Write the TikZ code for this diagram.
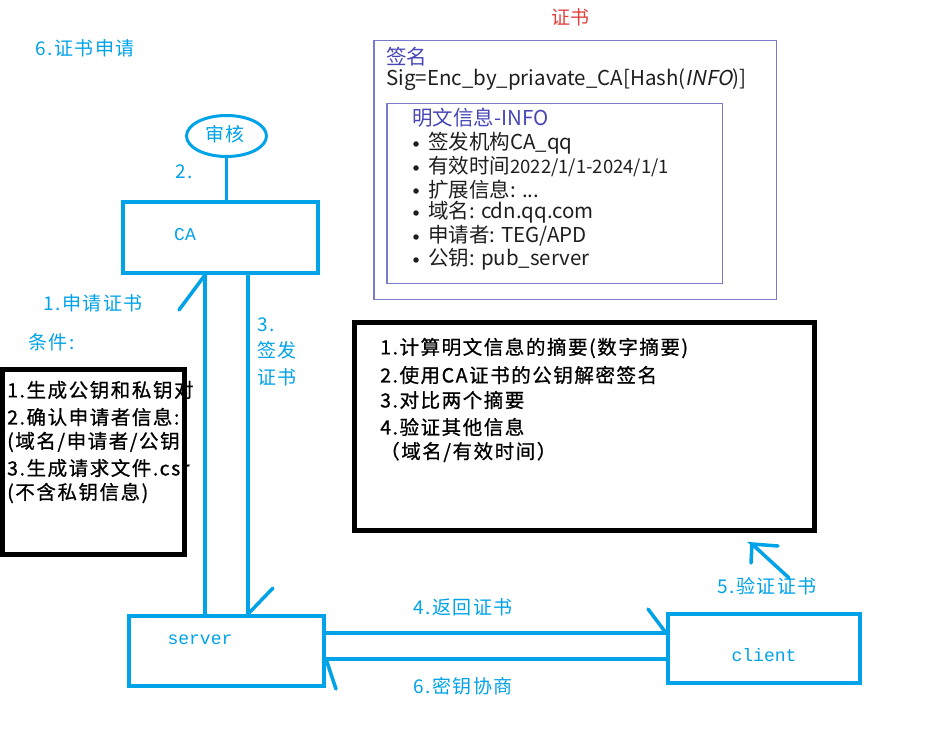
\documentclass[tikz,border=0pt]{standalone}
\usepackage{fontspec}
\setmainfont{Noto Sans CJK SC}
\newfontfamily\slfont[FakeSlant=0.2]{Noto Sans CJK SC}
\newfontfamily\sunfont[LetterSpace=8]{Noto Sans CJK SC}
\newfontfamily\sunboldfont[LetterSpace=8,FakeBold=0.8]{Noto Sans CJK SC}
\newfontfamily\monofont{Liberation Mono}
\usetikzlibrary{shapes.geometric}
\definecolor{pblue}{HTML}{00A2E8}
\definecolor{certred}{HTML}{E0403C}
\definecolor{certframe}{HTML}{7B7BCB}
\definecolor{certhead}{HTML}{4646B8}
\definecolor{certtext}{HTML}{1E1E1E}
\begin{document}
\begin{tikzpicture}[x=1pt,y=-1pt,
  bline/.style={draw=pblue,line width=3.5pt,line cap=round},
  bluebox/.style={draw=pblue,line width=4pt,inner sep=0pt},
  blackbox/.style={draw=black,line width=5pt,inner sep=0pt},
  bluetxt/.style={text=pblue,inner sep=0pt,anchor=west,font=\sunfont\fontsize{19}{19}\selectfont},
  blacktxt/.style={text=black,inner sep=0pt,anchor=west,font=\sunboldfont\fontsize{19.5}{19.5}\selectfont},
  certtxt/.style={text=certtext,inner sep=0pt,anchor=west,font=\fontsize{20.5}{20.5}\selectfont},
  bulletdot/.style={circle,fill=certtext,inner sep=0pt,minimum size=5.5pt},
  monotxt/.style={text=pblue,inner sep=0pt,font=\monofont\fontsize{18}{18}\selectfont},
]
\useasboundingbox (0,0) rectangle (925,730);

% ---------- certificate ----------
\node[text=certred,inner sep=0pt,font=\fontsize{19}{19}\selectfont] (title) at (570,17) {证书};
\node[draw=certframe,line width=1.5pt,inner sep=0pt,minimum width=402.5pt,minimum height=258.5pt] (cert) at (575,170) {};
\node[draw=certframe,line width=1.5pt,inner sep=0pt,minimum width=335.5pt,minimum height=179.5pt] (info) at (554.5,193.5) {};
\node[certtxt,text=certhead] (sigtitle) at (386,57) {签名};
\node[certtxt] (sig) at (386,80) {Sig=Enc\_by\_priavate\_CA[Hash({\slfont INFO})]};
\node[certtxt,text=certhead] (infotitle) at (412,118) {明文信息-INFO};
\node[bulletdot] (bd1) at (416,144) {};
\node[bulletdot] (bd2) at (416,168) {};
\node[bulletdot] (bd3) at (416,191) {};
\node[bulletdot] (bd4) at (416,213) {};
\node[bulletdot] (bd5) at (416,237) {};
\node[bulletdot] (bd6) at (416,260) {};
\node[certtxt] (bt1) at (428,143) {签发机构CA\_qq};
\node[certtxt] (bt2) at (428,167) {有效时间{\fontsize{18.5}{18.5}\selectfont 2022/1/1-2024/1/1}};
\node[certtxt] (bt3) at (428,190) {扩展信息: ...};
\node[certtxt] (bt4) at (428,212) {域名: cdn.qq.com};
\node[certtxt] (bt5) at (428,236) {申请者: TEG/APD};
\node[certtxt] (bt6) at (428,259) {公钥: pub\_server};

% ---------- left labels ----------
\node[bluetxt] (apply) at (35,48) {6.证书申请};
\node[draw=pblue,line width=3pt,ellipse,inner sep=0pt,minimum width=80pt,minimum height=41pt] (ell) at (226.5,136) {};
\node[bluetxt,anchor=center] (elltxt) at (225,134) {审核};
\node[bluetxt] (two) at (175,172) {2.};

% ---------- CA, server, client ----------
\node[bluebox,minimum width=195pt,minimum height=71pt] (ca) at (220.5,237.5) {};
\node[monotxt] (catxt) at (185,235) {CA};
\node[bluebox,minimum width=195pt,minimum height=70pt] (server) at (226.5,651) {};
\node[monotxt] (servertxt) at (200,640) {server};
\node[bluebox,minimum width=192pt,minimum height=69pt] (client) at (764,648.5) {};
\node[monotxt] (clienttxt) at (764,655) {client};

% ---------- connectors ----------
\draw[bline,line width=3pt] (ell.south) -- (ell.south |- ca.north);
\coordinate (xl) at (205,0);
\coordinate (xr) at (248,0);
\draw[bline] (xl |- ca.south) -- (xl |- server.north);
\draw[bline] (xl |- ca.south) -- ++(-26,35);
\draw[bline] (xr |- ca.south) -- (xr |- server.north);
\draw[bline] (xr |- server.north) -- ++(25,-26);
\coordinate (yu) at (0,633);
\coordinate (yd) at (0,659);
\draw[bline] (server.east |- yu) -- (client.west |- yu);
\draw[bline] (client.west |- yu) -- ++(-18,-24);
\draw[bline] (server.east |- yd) -- (client.west |- yd);
\draw[bline] (server.east |- yd) -- ++(10,30);
\coordinate (vtip) at (752,544);
\coordinate (vtail) at (789,578);
\draw[bline] (vtail) -- (vtip) -- ++(26,2);
\draw[bline] (vtip) -- ++(-1,19);

% ---------- labels on connectors ----------
\node[bluetxt] (l1) at (43,303) {1.申请证书};
\node[bluetxt] (cond) at (28,342) {条件:};
\node[bluetxt] (l3a) at (257,325) {3.};
\node[bluetxt] (l3b) at (257,350) {签发};
\node[bluetxt] (l3c) at (257,377) {证书};
\node[bluetxt] (l4) at (413,607) {4.返回证书};
\node[bluetxt] (l6) at (413,686) {6.密钥协商};
\node[bluetxt] (l5) at (717,586) {5.验证证书};

% ---------- left black box ----------
\node[blacktxt] (r1) at (7,390) {1.生成公钥和私钥对};
\node[blacktxt] (r2) at (7,417) {2.确认申请者信息:};
\node[blacktxt] (r3) at (7,442) {(域名/申请者/公钥)};
\node[blacktxt] (r4) at (7,468) {3.生成请求文件.csr};
\node[blacktxt] (r5) at (7,493) {(不含私钥信息)};
\node[blackbox,minimum width=182pt,minimum height=185pt] (reqbox) at (93.5,462) {};

% ---------- right black box ----------
\node[blackbox,minimum width=460pt,minimum height=208pt] (verbox) at (584.5,426.5) {};
\node[blacktxt] (v1) at (380,348) {1.计算明文信息的摘要(数字摘要)};
\node[blacktxt] (v2) at (380,375) {2.使用CA证书的公钥解密签名};
\node[blacktxt] (v3) at (380,400) {3.对比两个摘要};
\node[blacktxt] (v4) at (380,427) {4.验证其他信息};
\node[blacktxt] (v5) at (380,452) {（域名/有效时间）};
\end{tikzpicture}
\end{document}
